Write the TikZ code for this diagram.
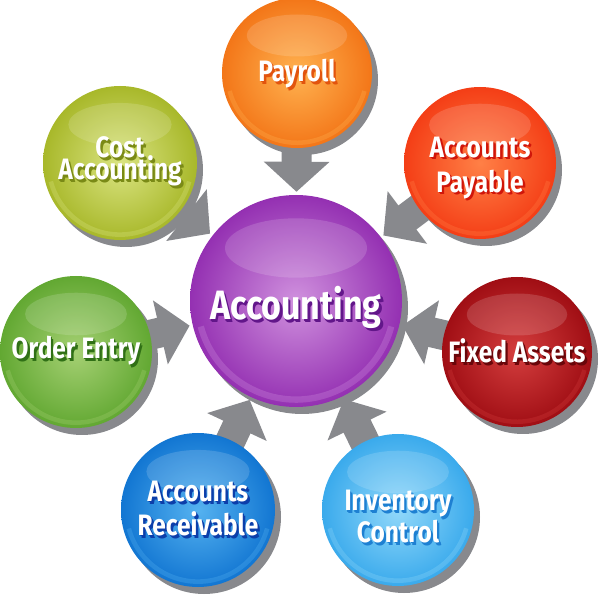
\documentclass[tikz,border=0pt]{standalone}
\usepackage{fontspec}
\newfontfamily\lblfont[FakeStretch=0.83]{Fira Sans}
\usetikzlibrary{arrows.meta,shadows,backgrounds,positioning}

\definecolor{payB}{RGB}{243,118,24}  \definecolor{payL}{RGB}{255,178,80}  \definecolor{payD}{RGB}{226,84,14}
\definecolor{costB}{RGB}{168,184,42} \definecolor{costL}{RGB}{218,228,130} \definecolor{costD}{RGB}{122,138,22}
\definecolor{apB}{RGB}{244,62,22}    \definecolor{apL}{RGB}{255,128,70}   \definecolor{apD}{RGB}{208,22,10}
\definecolor{faB}{RGB}{160,14,20}    \definecolor{faL}{RGB}{212,62,62}    \definecolor{faD}{RGB}{105,6,10}
\definecolor{icB}{RGB}{58,170,236}   \definecolor{icL}{RGB}{145,216,250}  \definecolor{icD}{RGB}{30,128,210}
\definecolor{arB}{RGB}{18,118,210}   \definecolor{arL}{RGB}{85,178,240}   \definecolor{arD}{RGB}{12,62,170}
\definecolor{oeB}{RGB}{98,168,50}    \definecolor{oeL}{RGB}{165,208,115}  \definecolor{oeD}{RGB}{48,112,22}
\definecolor{accB}{RGB}{148,48,178}  \definecolor{accL}{RGB}{208,145,222} \definecolor{accD}{RGB}{98,22,138}
\definecolor{shadowgray}{RGB}{136,137,141}

% white label with a darker, stepped shadow; optional arg lowers the line
\newcommand{\embossed}[2][0pt]{\leavevmode\raisebox{-#1}[\height][\depth]{%
  \rlap{\kern2.4pt\raisebox{-2.6pt}{\color{\txtshadow}#2}}%
  \rlap{\kern1.2pt\raisebox{-1.3pt}{\color{\txtshadow}#2}}#2}}

\tikzset{
  bubble/.style n args={4}{circle, minimum size=2*#1, inner sep=0pt, align=center,
    text=white, font=\lblfont\bfseries\fontsize{29.5}{31}\selectfont,
    shade, inner color=#3, outer color=#2,
    drop shadow={shadow xshift=6pt, shadow yshift=-7pt, fill=shadowgray, opacity=1},
    execute at begin node={\def\txtshadow{#4}},
    path picture={
      \fill[white, opacity=0.15] ([yshift=0.5*#1]path picture bounding box.center)
        ellipse [x radius=0.67*#1, y radius=0.28*#1];
      \draw[#3, opacity=0.3, line width=0.06*#1]
        ([shift={(195:0.93*#1)}]path picture bounding box.center)
        arc [start angle=195, end angle=345, radius=0.93*#1];
    }},
  pointer/.style={draw=shadowgray, line width=30pt, shorten >=3pt,
    -{Triangle[width=64pt,length=30pt]}}
}

\begin{document}
\begin{tikzpicture}[x=1pt,y=1pt]
  \useasboundingbox (0,0) rectangle (600,595);

  \node[bubble={75pt}{payB}{payL}{payD}] (pay) at (297,522) {\embossed[2pt]{Payroll}};
  \node[bubble={77pt}{costB}{costL}{costD}] (cost) at (120,432)
    {\embossed{Cost}\\[-9pt]\embossed{Accounting}};
  \node[bubble={76pt}{apB}{apL}{apD}] (ap) at (480,432)
    {\embossed[6pt]{Accounts}\\[4pt]\embossed[6pt]{Payable}};
  \node[bubble={76pt}{oeB}{oeL}{oeD}] (oe) at (76,243) {\embossed{Order Entry}};
  \node[bubble={75pt}{faB}{faL}{faD}] (fa) at (517,243) {\embossed{Fixed Assets}};
  \node[bubble={77pt}{arB}{arL}{arD}] (ar) at (198,85)
    {\embossed{Accounts}\\[3pt]\embossed{Receivable}};
  \node[bubble={76pt}{icB}{icL}{icD}] (ic) at (398,85)
    {\embossed[8pt]{Inventory}\\[-1pt]\embossed[8pt]{Control}};
  \node[bubble={106pt}{accB}{accL}{accD}, font=\lblfont\bfseries\fontsize{41}{44}\selectfont]
    (acc) at (296,294) {\embossed[8pt]{Accounting}};

  % arrows run under the bubbles
  \begin{scope}[on background layer]
    \foreach \src in {pay,cost,ap,fa,ic,ar,oe}
      \draw[pointer] (\src.center) -- (acc);
  \end{scope}
\end{tikzpicture}
\end{document}
